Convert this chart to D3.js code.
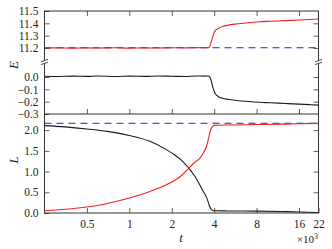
<!DOCTYPE html>
<html><head><meta charset="utf-8">
<script src="https://cdn.jsdelivr.net/npm/d3@7"></script>
<style>
html,body{margin:0;padding:0;background:#fff;}
svg{display:block;}
svg text{font-family:"Liberation Serif","Times New Roman",serif !important;fill:#222;}
</style></head><body>
<svg id="c" width="332" height="249" font-family="Liberation Serif, serif"></svg>
<script>
// ---- data (t in units of 10^3) ----
const xTicks = [0.5, 1, 2, 4, 8, 16, 22];
const eUpTicks = [11.2, 11.3, 11.4, 11.5];
const eLowTicks = [0.0, -0.1, -0.2, -0.3];
const lTicks = [0.0, 0.5, 1.0, 1.5, 2.0];

const tE = [0.25,0.3,0.4,0.5,0.6,0.8,1,1.3,1.6,2,2.5,3,3.4,3.66,3.72,3.8,3.88,3.93,4.0,4.1,4.3,4.6,5,5.75,7,8.4,10,12.9,16,19,22];
const eRed = [11.200,11.201,11.199,11.201,11.200,11.202,11.199,11.201,11.200,11.202,11.201,11.203,11.202,11.203,11.215,11.245,11.28,11.30,11.325,11.345,11.36,11.375,11.385,11.395,11.405,11.413,11.417,11.422,11.427,11.431,11.435];
const eBlack = [0.006,0.004,0.007,0.005,0.008,0.004,0.007,0.005,0.008,0.006,0.004,0.008,0.007,0.008,0.0,-0.025,-0.065,-0.09,-0.115,-0.14,-0.16,-0.173,-0.181,-0.19,-0.199,-0.205,-0.209,-0.215,-0.22,-0.224,-0.228];
const eRef = 11.202;

const tL = [0.25,0.35,0.5,0.7,1.0,1.4,1.83,2.1,2.3,2.64,2.9,3.16,3.35,3.52,3.65,3.72,3.8,3.88,3.93,4.0,5,8,12,16,22];
const lBlack = [2.11,2.08,2.03,1.97,1.87,1.73,1.53,1.40,1.30,1.08,0.90,0.68,0.52,0.39,0.24,0.15,0.10,0.07,0.06,0.055,0.05,0.045,0.035,0.025,0.012];
const lRed = [0.055,0.09,0.145,0.23,0.36,0.52,0.68,0.79,0.88,1.08,1.22,1.32,1.45,1.60,1.80,1.93,2.03,2.08,2.10,2.115,2.125,2.135,2.145,2.155,2.165];
const lRef = 2.168;

// ---- layout ----
const svg = d3.select("#c");
const FONT = "'Liberation Serif','Times New Roman',serif";
const X0 = 44.5, X1 = 318.5;
const topY0 = 11, topY1 = 114, botY1 = 213;
const x = d3.scaleLog().domain([0.25, 22]).range([X0, X1]);
const yUp = d3.scaleLinear().domain([11.5, 11.2]).range([11, 48]);
const yLow = d3.scaleLinear().domain([0, -0.3]).range([77, 114]);
const yL = d3.scaleLinear().domain([0, 2.4]).range([botY1, 113.6]);

const RED = "#f51c1c", BLK = "#1a1a1a", BLUE = "#2020c8", AX = "#333";

function line(xs, ys, yscale){
  return d3.line().x((d,i)=>x(xs[i])).y((d,i)=>yscale(ys[i])).curve(d3.curveMonotoneX)(ys);
}

const defs = svg.append("defs");
defs.append("clipPath").attr("id","cTop").append("rect").attr("x",X0).attr("y",topY0).attr("width",X1-X0).attr("height",topY1-topY0);
defs.append("clipPath").attr("id","cBot").append("rect").attr("x",X0).attr("y",topY1).attr("width",X1-X0).attr("height",botY1-topY1);

const gTop = svg.append("g").attr("clip-path","url(#cTop)");
gTop.append("line").attr("x1",X0).attr("x2",X1).attr("y1",yUp(eRef)).attr("y2",yUp(eRef))
  .attr("stroke",BLUE).attr("stroke-width",1.1).attr("stroke-dasharray","7,5");
gTop.append("path").attr("d",line(tE,eRed,yUp)).attr("fill","none").attr("stroke",RED).attr("stroke-width",1.1);
gTop.append("path").attr("d",line(tE,eBlack,yLow)).attr("fill","none").attr("stroke",BLK).attr("stroke-width",1.1);

const gBot = svg.append("g").attr("clip-path","url(#cBot)");
gBot.append("line").attr("x1",X0).attr("x2",X1).attr("y1",yL(lRef)).attr("y2",yL(lRef))
  .attr("stroke",BLUE).attr("stroke-width",1.1).attr("stroke-dasharray","7,5");
gBot.append("path").attr("d",line(tL,lBlack,yL)).attr("fill","none").attr("stroke",BLK).attr("stroke-width",1.1);
gBot.append("path").attr("d",line(tL,lRed,yL)).attr("fill","none").attr("stroke",RED).attr("stroke-width",1.1);

// ---- axes ----
const fmt = d3.format(".1f");
function styleAxis(g){
  g.attr("font-family", FONT);
  g.select(".domain").remove();
  g.selectAll(".tick line").attr("stroke",AX).attr("stroke-width",0.8);
  g.selectAll(".tick text").style("font-size","11.5px").style("font-family",FONT).attr("fill","#222");
}
svg.append("g").attr("transform",`translate(${X0},0)`)
  .call(d3.axisLeft(yUp).tickValues(eUpTicks).tickFormat(fmt).tickSize(-5).tickPadding(6)).call(styleAxis);
svg.append("g").attr("transform",`translate(${X0},0)`)
  .call(d3.axisLeft(yLow).tickValues(eLowTicks).tickFormat(fmt).tickSize(-5).tickPadding(6)).call(styleAxis);
svg.append("g").attr("transform",`translate(${X1},0)`)
  .call(d3.axisRight(yUp).tickValues(eUpTicks.slice(0,3)).tickFormat("").tickSize(-5)).call(styleAxis);
svg.append("g").attr("transform",`translate(${X1},0)`)
  .call(d3.axisRight(yLow).tickValues(eLowTicks.slice(0,3)).tickFormat("").tickSize(-5)).call(styleAxis);
svg.append("g").attr("transform",`translate(${X0},0)`)
  .call(d3.axisLeft(yL).tickValues(lTicks).tickFormat(fmt).tickSize(-5).tickPadding(6)).call(styleAxis);
svg.append("g").attr("transform",`translate(${X1},0)`)
  .call(d3.axisRight(yL).tickValues(lTicks.slice(1)).tickFormat("").tickSize(-5)).call(styleAxis);
svg.append("g").attr("transform",`translate(0,${botY1})`)
  .call(d3.axisBottom(x).tickValues(xTicks).tickFormat(d=>String(d)).tickSize(-5).tickPadding(7)).call(styleAxis);
svg.append("g").attr("transform",`translate(0,${topY0})`)
  .call(d3.axisTop(x).tickValues(xTicks.slice(0,6)).tickFormat("").tickSize(-5)).call(styleAxis);
svg.append("g").attr("transform",`translate(0,${topY1})`)
  .call(d3.axisBottom(x).tickValues(xTicks.slice(0,6)).tickFormat("").tickSize(-5)).call(styleAxis);

svg.append("rect").attr("x",X0).attr("y",topY0).attr("width",X1-X0).attr("height",botY1-topY0)
  .attr("fill","none").attr("stroke",AX).attr("stroke-width",1);
svg.append("line").attr("x1",X0).attr("x2",X1).attr("y1",topY1).attr("y2",topY1).attr("stroke",AX).attr("stroke-width",1);

// break marks
const yb = 62;
[X0, X1].forEach(xx=>{
  svg.append("rect").attr("x",xx-1.5).attr("y",yb-1.3).attr("width",3).attr("height",2.6).attr("fill","#fff");
  [-1.4, 1.4].forEach(o=>{
    svg.append("line").attr("x1",xx-3.5).attr("y1",yb+o+1.2).attr("x2",xx+3.5).attr("y2",yb+o-1.2)
      .attr("stroke",AX).attr("stroke-width",0.9);
  });
});

// labels
function lab(){ return svg.append("text").style("font-family",FONT); }
lab().attr("transform","translate(18,65) rotate(-90)").attr("text-anchor","middle")
  .style("font-size","13px").style("font-style","italic").text("E");
lab().attr("transform","translate(18,160) rotate(-90)").attr("text-anchor","middle")
  .style("font-size","13px").style("font-style","italic").text("L");
lab().attr("x",181).attr("y",242).attr("text-anchor","middle")
  .style("font-size","13px").style("font-style","italic").text("t");
const sc = lab().attr("x",318).attr("y",243).attr("text-anchor","end").style("font-size","11px");
sc.append("tspan").text("×10");
sc.append("tspan").attr("dy",-4).style("font-size","8px").text("3");
</script>
</body></html>
